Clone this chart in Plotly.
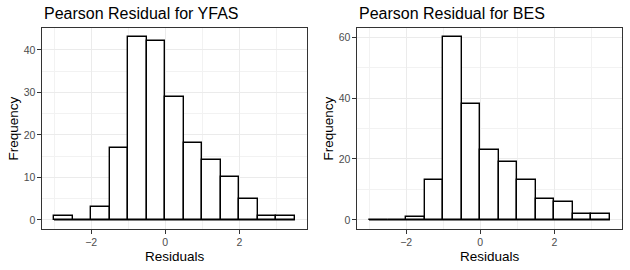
import plotly.graph_objects as go

bin_starts = [-3.0, -2.5, -2.0, -1.5, -1.0, -0.5, 0.0, 0.5, 1.0, 1.5, 2.0, 2.5, 3.0]
bin_width = 0.5
yfas_counts = [1, 0, 3, 17, 43, 42, 29, 18, 14, 10, 5, 1, 1]
bes_counts = [0, 0, 1, 13, 60, 38, 23, 19, 13, 7, 6, 2, 2]
titles = ["Pearson Residual for YFAS", "Pearson Residual for BES"]
x_label = "Residuals"
y_label = "Frequency"

W, H = 630, 270
FONT = "Liberation Sans, Arial, sans-serif"

centers = [s + bin_width / 2 for s in bin_starts]
edges = bin_starts + [bin_starts[-1] + bin_width]

fig = go.Figure()
panels = [
    (yfas_counts, "x", "y", [42, 307]),
    (bes_counts, "x2", "y2", [357, 622]),
]
for i, (counts, xa, ya, px) in enumerate(panels):
    fig.add_trace(go.Bar(
        x=centers, y=counts, width=bin_width, xaxis=xa, yaxis=ya,
        marker=dict(color="white", line=dict(color="black", width=1.4)),
        showlegend=False, hoverinfo="x+y"))
    fig.add_trace(go.Scatter(
        x=[edges[0], edges[-1]], y=[0, 0], xaxis=xa, yaxis=ya, mode="lines",
        line=dict(color="black", width=1.4), showlegend=False, hoverinfo="skip"))


def fx(p):
    return p / W


def fy(p):
    return 1 - p / H


top_px, bot_px = 28, 229
ydom = [fy(bot_px), fy(top_px)]

xmin, xmax = edges[0], edges[-1]
xpad = (xmax - xmin) * 0.05

common_axis = dict(
    showline=True, mirror=True, linecolor="#333333", linewidth=1.1,
    ticks="outside", ticklen=3.5, tickcolor="#333333", tickwidth=1.1,
    gridcolor="#EBEBEB", gridwidth=1.1, zeroline=False,
    tickfont=dict(family=FONT, size=10.5, color="#4D4D4D"),
    minor=dict(showgrid=True, gridcolor="#F2F2F2", gridwidth=0.6, ticks=""),
)

layout = dict(
    width=W, height=H, margin=dict(l=0, r=0, t=0, b=0),
    paper_bgcolor="white", plot_bgcolor="white", bargap=0,
    font=dict(family=FONT),
)
for i, (counts, xa, ya, px) in enumerate(panels):
    suffix = "" if i == 0 else "2"
    ymax = max(counts)
    ypad = ymax * 0.05
    dtick_y = 10 if ymax < 50 else 20
    layout["xaxis" + suffix] = dict(
        common_axis, domain=[fx(px[0]), fx(px[1])], anchor="y" + suffix,
        range=[xmin - xpad, xmax + xpad], tickvals=[-2, 0, 2],
        minor=dict(common_axis["minor"], tickvals=[-3, -1, 1, 3]))
    layout["yaxis" + suffix] = dict(
        common_axis, domain=ydom, anchor="x" + suffix,
        range=[-ypad, ymax + ypad], dtick=dtick_y, tick0=0,
        minor=dict(common_axis["minor"], dtick=dtick_y / 2))
fig.update_layout(**layout)

annotations = []
for i, (counts, xa, ya, px) in enumerate(panels):
    annotations.append(dict(
        text=titles[i], x=fx(px[0]), y=fy(14), xref="paper", yref="paper",
        xanchor="left", yanchor="middle", showarrow=False,
        font=dict(family=FONT, size=16, color="black")))
    annotations.append(dict(
        text=x_label, x=fx((px[0] + px[1]) / 2), y=fy(256), xref="paper", yref="paper",
        xanchor="center", yanchor="middle", showarrow=False,
        font=dict(family=FONT, size=13.5, color="black")))
    annotations.append(dict(
        text=y_label, x=fx(px[0] - 29), y=(ydom[0] + ydom[1]) / 2, xref="paper", yref="paper",
        xanchor="center", yanchor="middle", showarrow=False, textangle=-90,
        font=dict(family=FONT, size=13.5, color="black")))
fig.update_layout(annotations=annotations)

fig.write_html("out.html", config={"displayModeBar": False},
               post_script="document.body.style.margin='0';")
